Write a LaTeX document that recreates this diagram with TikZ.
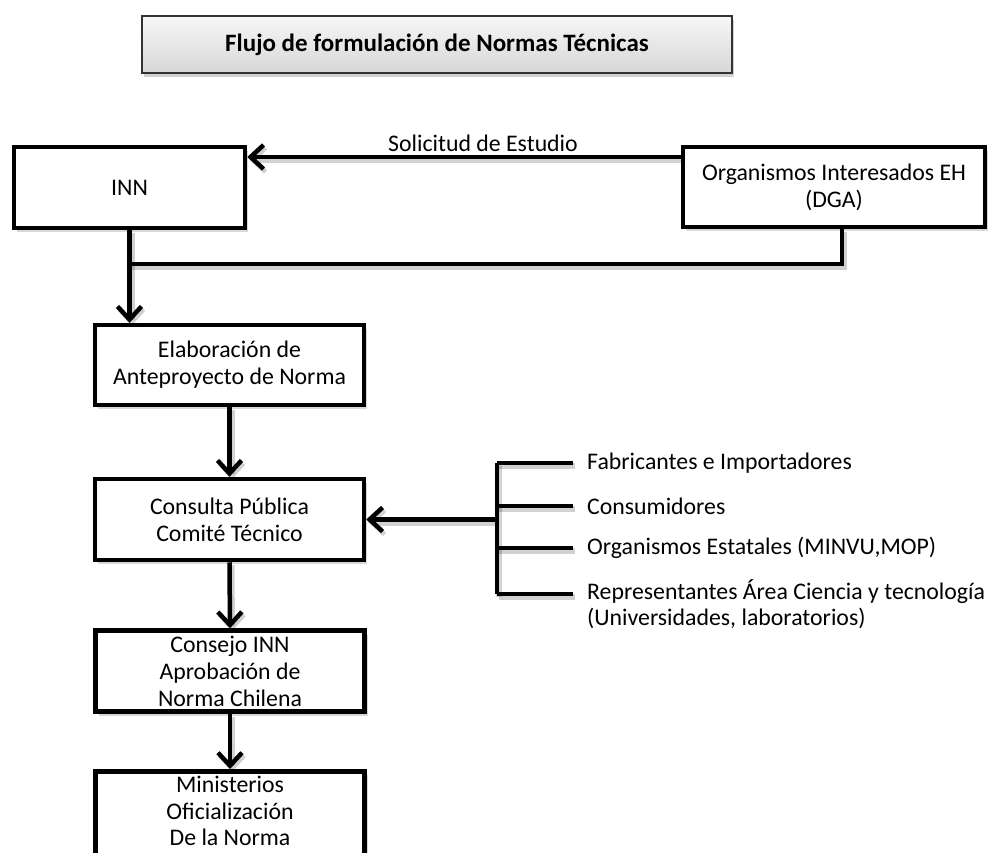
\documentclass[tikz,border=0pt]{standalone}
\usepackage{fontspec}
\setmainfont{Carlito}
\usetikzlibrary{arrows.meta,shadows}
\tikzset{
  box/.style={draw=black, line width=4.5pt, fill=white, align=center, inner sep=0pt,
    font=\fontsize{23.8}{27}\selectfont,
    drop shadow={opacity=0.3, shadow xshift=3pt, shadow yshift=-4pt}},
  titlebox/.style={draw=black!80, line width=2pt, top color=gray!6, bottom color=gray!32,
    align=center, inner sep=0pt, font=\fontsize{25}{28}\selectfont\bfseries,
    drop shadow={opacity=0.35, shadow xshift=2pt, shadow yshift=-4pt}},
  lab/.style={inner sep=0pt, align=left, font=\fontsize{23.8}{26}\selectfont},
  conn/.style={line width=4.5pt, draw=black,
    preaction={draw=black, opacity=0.18, line width=6pt, transform canvas={xshift=2pt,yshift=-3pt}}},
  arr/.style={conn, -{Straight Barb[length=13pt,width=24pt,line width=4.5pt]}},
}
\begin{document}
\begin{tikzpicture}[x=1pt,y=-1pt]
\useasboundingbox (0,0) rectangle (992,852);
\clip (0,0) rectangle (992,852);
\fill[white] (0,0) rectangle (992,852);

\node[titlebox, minimum width=590pt, minimum height=57pt] (title) at (437,44.5) {Flujo de formulación de Normas Técnicas};

\node[box, minimum width=231pt, minimum height=81pt] (inn) at (129.5,187.5) {INN};
\node[box, minimum width=302pt, minimum height=80pt] (org) at (834,187) {Organismos Interesados EH\\(DGA)};
\node[box, minimum width=269pt, minimum height=80pt] (elab) at (229.5,365) {Elaboración de\\Anteproyecto de Norma};
\node[box, minimum width=269pt, minimum height=81pt] (cons) at (229.5,519.5) {Consulta Pública\\Comité Técnico};
\node[box, minimum width=269pt, minimum height=81pt] (consejo) at (230,671) {Consejo INN\\Aprobación de\\Norma Chilena};
\node[box, anchor=north, minimum width=269pt, minimum height=130pt] (mini) at (230,769) {};
\node[inner sep=0pt, align=center, font=\fontsize{23.8}{26.5}\selectfont] (minitxt) at (230,811) {Ministerios\\Oficialización\\De la Norma};

\node[inner sep=0pt, font=\fontsize{23.8}{26}\selectfont] (sol) at (483,143) {Solicitud de Estudio};

\coordinate (solY) at (0,157);
\draw[arr] (org.west |- solY) -- (inn.east |- solY);

\coordinate (j1) at (129.5,264);
\coordinate (j2) at (842,264);
\draw[arr] (inn.south) -- (inn.south |- elab.north);
\draw[conn] (j1) -- (j2) -- (j2 |- org.south);

\draw[arr] (elab.south) -- (cons.north);
\draw[arr] (cons.south) -- (consejo.north);
\draw[arr] (consejo.south) -- (mini.north);

\node[lab, anchor=west] (fab) at (587,463) {Fabricantes e Importadores};
\node[lab, anchor=west] (consu) at (587,506) {Consumidores};
\node[lab, anchor=west] (orgest) at (587,548) {Organismos Estatales (MINVU,MOP)};
\node[lab, anchor=north west] (rep) at (587,579) {Representantes Área Ciencia y tecnología\\(Universidades, laboratorios)};

\coordinate (bt) at (497,463);
\coordinate (bb) at (497,594);
\coordinate (be) at (573,0);
\draw[conn] (bt) -- (bb);
\draw[conn] (bt) -- (bt -| be);
\draw[conn] (consu.west -| bt) -- (consu.west -| be);
\draw[conn] (orgest.west -| bt) -- (orgest.west -| be);
\draw[conn] (bb) -- (bb -| be);
\draw[arr] (bt |- cons.east) -- (cons.east);
\end{tikzpicture}
\end{document}
